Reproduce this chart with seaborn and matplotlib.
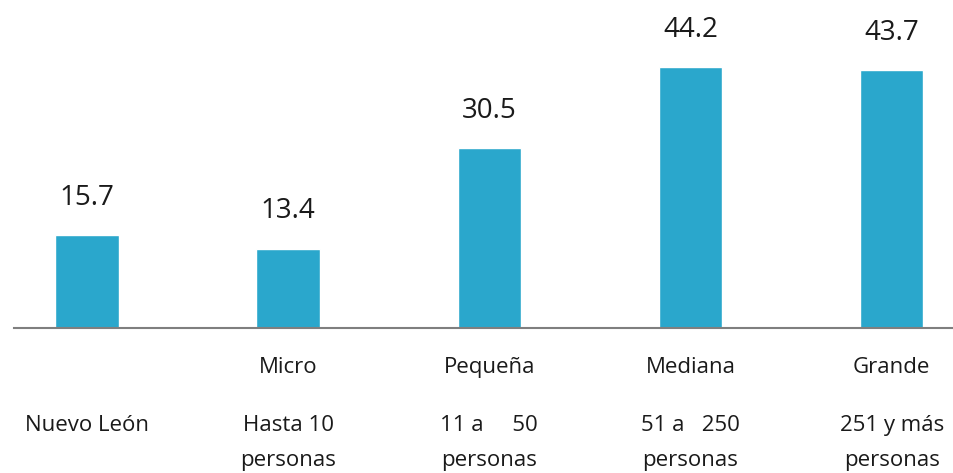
import matplotlib
matplotlib.use("Agg")
import matplotlib.pyplot as plt
import matplotlib.transforms as mtransforms
import seaborn as sns

# ---- data ----
groups = ["Nuevo León", "Micro", "Pequeña", "Mediana", "Grande"]
values = [15.7, 13.4, 30.5, 44.2, 43.7]
size_names = ["", "Micro", "Pequeña", "Mediana", "Grande"]
size_ranges = ["Nuevo León", "Hasta 10\npersonas", "11 a     50\npersonas",
               "51 a   250\npersonas", "251 y más\npersonas"]

bar_color = "#2AA7CC"

sns.set_style("white")
plt.rcParams["font.family"] = ["Open Sans", "DejaVu Sans"]

fig = plt.figure(figsize=(9.54, 4.73), dpi=100)
ax = fig.add_axes([14 / 954, 145 / 473, 940 / 954, 295 / 473])

sns.barplot(x=groups, y=values, color=bar_color, width=0.315, saturation=1, ax=ax)

ax.set_xlim(-0.363, 4.31)
ax.set_ylim(0, 50)

for s in ["top", "left", "right"]:
    ax.spines[s].set_visible(False)
ax.spines["bottom"].set_color("#7f7f7f")
ax.spines["bottom"].set_linewidth(1.5)
ax.set_xticks([])
ax.set_yticks([])
ax.set_xlabel("")
ax.set_ylabel("")

# value labels
for i, v in enumerate(values):
    ax.annotate(f"{v:.1f}", (i, v), xytext=(0, 27), textcoords="offset points",
                ha="center", va="center", fontsize=20, fontweight="medium",
                color="#1a1a1a", annotation_clip=False)

# category labels below the axis
trans = mtransforms.blended_transform_factory(ax.transData, fig.transFigure)
for i, name in enumerate(size_names):
    if name:
        ax.text(i, 1 - 367 / 473, name, transform=trans, ha="center", va="center",
                fontsize=16, color="#1a1a1a")
for i, rng in enumerate(size_ranges):
    for j, ln in enumerate(rng.split("\n")):
        ax.text(i, 1 - (425 + 35 * j) / 473, ln, transform=trans, ha="center",
                va="center", fontsize=16, color="#1a1a1a")

fig.savefig("out.png", dpi=100)
